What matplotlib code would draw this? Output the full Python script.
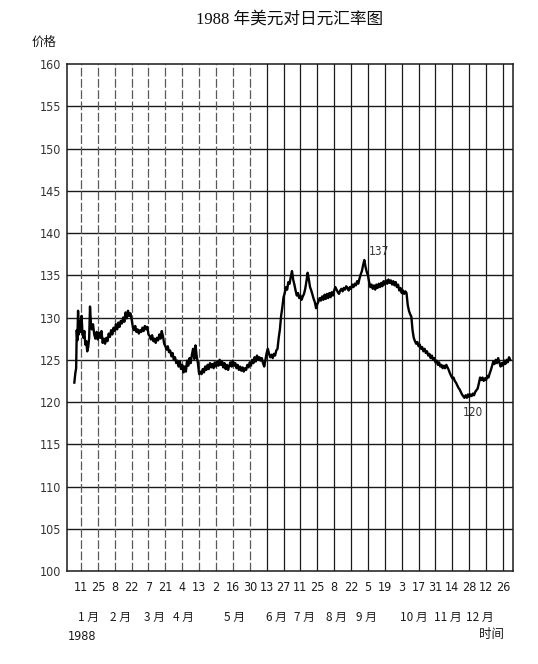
import matplotlib
matplotlib.use('Agg')
import matplotlib.pyplot as plt
import matplotlib.transforms as mtransforms

plt.rcParams['font.family'] = ['Noto Sans CJK SC', 'DejaVu Sans']

# 1988 日线读数（横轴为当年第几天）
day = [5.5, 6.3, 7.0, 7.5, 8.0, 8.6, 9.2, 10, 10.8, 11.5, 12.3, 13, 13.8, 14.6, 15.4, 16.2,
       17, 17.8, 18.5, 19.2, 20, 21, 22, 23, 24, 25, 26, 27, 28, 29, 30, 31, 32, 33, 34,
       35, 36, 37, 38, 39, 40, 41, 42, 43, 44, 45, 46, 47, 48, 49, 50, 51, 52, 53, 54,
       55, 56, 57, 58, 59, 60, 61, 62, 63, 64, 65, 66, 67, 68, 69, 70, 71, 72, 73, 74,
       75, 76, 77, 78, 79, 80, 81, 82, 83, 84, 85, 86, 87, 88, 89, 90, 91, 92, 93, 94,
       95, 96, 97, 98, 99, 100, 101, 102, 103, 104, 105, 106, 107, 108, 109, 110, 111,
       112, 113, 114, 115, 116, 117, 118, 119, 120, 121, 122, 123, 124, 125, 126, 127,
       128, 129, 130, 131, 132, 133, 134, 135, 136, 137, 138, 139, 140, 141, 142, 143,
       144, 145, 146, 147, 148, 149, 150, 151, 152, 153, 154, 155, 156, 157, 158, 159,
       160, 161, 162, 163, 164, 165, 166, 167, 168, 169, 170, 171, 172, 173, 174, 175,
       176, 177, 178, 179, 180, 181, 182, 183, 184, 185, 186, 187, 188, 189, 190, 191,
       192, 193, 194, 195, 196, 197, 198, 199, 200, 201, 202, 203, 204, 205, 206, 207,
       208, 209, 210, 211, 212, 213, 214, 215, 216, 217, 218, 219, 220, 221, 222, 223,
       224, 225, 226, 227, 228, 229, 230, 231, 232, 233, 234, 235, 236, 237, 238, 239,
       240, 241, 242, 243, 244, 245, 246, 247, 248, 249, 250, 251, 252, 253, 254, 255,
       256, 257, 258, 259, 260, 261, 262, 263, 264, 265, 266, 267, 268, 269, 270, 271,
       272, 273, 274, 275, 276, 277, 278, 279, 280, 281, 282, 283, 284, 285, 286, 287,
       288, 289, 290, 291, 292, 293, 294, 295, 296, 297, 298, 299, 300, 301, 302, 303,
       304, 305, 306, 307, 308, 309, 310, 311, 312, 313, 314, 315, 316, 317, 318, 319,
       320, 321, 322, 323, 324, 325, 326, 327, 328, 329, 330, 331, 332, 333, 334, 335,
       336, 337, 338, 339, 340, 341, 342, 343, 344, 345, 346, 347, 348, 349, 350, 351,
       352, 353, 354, 355, 356, 357, 358, 359, 360, 361, 362, 363, 364, 365, 366, 367]
rate = [122.3, 123.4, 124.0, 128.5, 127.3, 130.8, 128.0, 129.6, 128.3, 130.2, 128.0, 127.6,
        128.4, 126.8, 127.2, 126.0, 126.5, 127.6, 131.3, 129.4, 128.6, 129.2, 128.0, 127.5,
        128.3, 127.4, 128.2, 127.6, 128.4, 127.0, 127.5, 126.9, 127.6, 127.2, 128.1, 127.7,
        128.5, 128.0, 128.8, 128.4, 129.2, 128.6, 129.4, 128.9, 129.6, 129.3, 130.0, 129.5,
        130.6, 129.9, 130.8, 130.2, 130.5, 129.8, 128.9, 128.5, 129.0, 128.3, 128.6, 128.1,
        128.5, 128.3, 128.8, 128.4, 129.0, 128.6, 128.9, 128.0, 127.8, 127.4, 127.9, 127.2,
        127.5, 127.0, 127.6, 127.3, 128.0, 127.5, 128.4, 127.8, 126.9, 126.6, 126.2, 126.6,
        125.9, 126.1, 125.4, 125.8, 125.0, 125.3, 124.6, 124.9, 124.2, 124.8, 123.9, 124.4,
        123.5, 124.2, 123.6, 124.9, 124.3, 125.2, 124.6, 125.6, 126.3, 125.1, 126.7, 125.4,
        124.6, 123.3, 123.6, 123.3, 123.9, 123.5, 124.2, 123.8, 124.4, 123.9, 124.6, 124.1,
        124.5, 124.0, 124.7, 124.2, 124.8, 124.3, 125.0, 124.4, 124.8, 124.1, 124.6, 123.9,
        124.4, 123.8, 124.3, 124.7, 124.2, 124.9, 124.3, 124.6, 124.0, 124.4, 123.8, 124.2,
        123.7, 124.1, 123.6, 124.0, 123.8, 124.4, 124.1, 124.7, 124.3, 125.0, 124.6, 125.3,
        124.8, 125.5, 125.0, 125.3, 124.9, 125.2, 124.6, 124.2, 125.0, 125.8, 126.3, 125.7,
        125.3, 125.6, 125.2, 125.7, 125.5, 126.1, 126.3, 127.6, 128.6, 130.2, 131.2, 132.4,
        132.9, 133.6, 133.3, 134.2, 134.0, 134.8, 135.5, 134.5, 133.9, 133.2, 132.6, 132.9,
        132.3, 132.6, 132.1, 132.5, 132.8, 133.4, 134.3, 135.3, 134.5, 133.6, 133.2, 132.7,
        132.2, 131.8, 131.1, 131.6, 131.9, 132.3, 132.0, 132.5, 132.1, 132.7, 132.2, 132.8,
        132.3, 132.9, 132.4, 133.0, 132.6, 133.2, 133.6, 133.3, 133.0, 132.8, 133.2, 133.4,
        133.1, 133.5, 133.3, 133.7, 133.5, 133.2, 133.6, 133.4, 133.9, 133.6, 134.0, 133.8,
        134.3, 134.0, 134.6, 135.1, 135.5, 136.2, 136.8, 136.0, 135.4, 135.0, 134.2, 133.6,
        133.9, 133.4, 133.8, 133.3, 133.9, 133.5, 134.0, 133.6, 134.1, 133.7, 134.3, 133.9,
        134.4, 134.0, 134.5, 134.1, 134.4, 133.9, 134.3, 133.8, 134.2, 133.6, 133.9, 133.2,
        133.5, 132.9, 133.2, 132.8, 133.1, 132.9, 131.5, 130.8, 130.4, 130.1, 128.5, 127.6,
        127.2, 126.9, 127.1, 126.6, 126.8, 126.3, 126.5, 126.0, 126.3, 125.8, 126.0, 125.5,
        125.7, 125.2, 125.5, 125.0, 125.2, 124.7, 124.9, 124.4, 124.7, 124.2, 124.4, 124.0,
        124.3, 124.0, 124.4, 124.1, 123.8, 123.4, 123.1, 122.8, 122.9, 122.5, 122.3, 122.0,
        121.7, 121.5, 121.2, 120.9, 120.7, 120.5, 120.8, 120.5, 120.9, 120.6, 120.9, 120.7,
        121.0, 120.8, 121.2, 121.4, 121.6, 122.2, 122.9, 122.6, 122.9, 122.5, 122.8, 122.6,
        123.1, 122.9, 123.4, 123.8, 124.3, 124.8, 124.5, 125.0, 124.6, 125.2, 124.7, 124.2,
        124.6, 124.3, 124.9, 124.5, 125.0, 124.7, 125.3, 125.0]

tick_days = [11, 25, 39, 53, 67, 81, 95, 109, 123, 137, 151, 165, 179, 193, 207, 221,
             235, 249, 263, 277, 291, 305, 319, 333, 347, 361]
tick_labels = ['11', '25', '8', '22', '7', '21', '4', '13', '2', '16', '30', '13', '27',
               '11', '25', '8', '22', '5', '19', '3', '17', '31', '14', '28', '12', '26']
month_days = [17, 44, 72, 96, 138, 173, 196, 223, 248, 287, 315, 342]
month_labels = ['1 月', '2 月', '3 月', '4 月', '5 月', '6 月', '7 月', '8 月', '9 月',
                '10 月', '11 月', '12 月']
price_ticks = [100, 105, 110, 115, 120, 125, 130, 135, 140, 145, 150, 155, 160]

num_font = dict(family='DejaVu Sans', fontstretch='condensed')

fig = plt.figure(figsize=(5.38, 6.64), dpi=100)
ax = fig.add_axes([0.1245, 0.140, 0.829, 0.7636])

for y in price_ticks[1:-1]:
    ax.axhline(y, color='0.1', lw=1.0, zorder=1)
for i, d in enumerate(tick_days):
    if i < 11:
        ax.axvline(d, color='0.35', lw=0.9, ls=(0, (7, 2)), zorder=1)
    else:
        ax.axvline(d, color='0.1', lw=0.9, zorder=1)

ax.plot(day, rate, color='black', lw=1.7, zorder=3)

ax.set_xlim(-0.6, 369.3)
ax.set_ylim(100, 160)
ax.set_yticks(price_ticks)
ax.set_yticklabels([str(p) for p in price_ticks], color='0.2', fontsize=9, **num_font)
ax.tick_params(axis='y', length=0, pad=4)
ax.set_xticks([])
for s in ax.spines.values():
    s.set_color('0.1')
    s.set_linewidth(1.1)

# 图内标注
ax.text(250, 137.0, '137', fontsize=8.5, color='0.2', ha='left', va='bottom', **num_font)
ax.text(336, 119.5, '120', fontsize=8.5, color='0.2', ha='center', va='top', **num_font)

trans = mtransforms.blended_transform_factory(ax.transData, fig.transFigure)
for d, lab in zip(tick_days, tick_labels):
    ax.text(d, 0.1145, lab, transform=trans, ha='center', va='center', fontsize=9,
            color='0.1', **num_font)
for d, lab in zip(month_days, month_labels):
    ax.text(d, 0.0708, lab, transform=trans, ha='center', va='center', fontsize=8.5,
            color='0.1')

fig.text(0.152, 0.0407, '1988', ha='center', va='center', fontsize=9, color='0.1',
         **num_font)
fig.text(0.914, 0.0437, '时间', ha='center', va='center', fontsize=9, color='0.1')
fig.text(0.082, 0.9367, '价格', ha='center', va='center', fontsize=9, color='0.1')
fig.text(0.539, 0.970, '1988 年美元对日元汇率图', ha='center', va='center', fontsize=12,
         color='0.05', family=['Liberation Serif', 'Noto Sans CJK SC'])

fig.savefig('out.png', dpi=100)
